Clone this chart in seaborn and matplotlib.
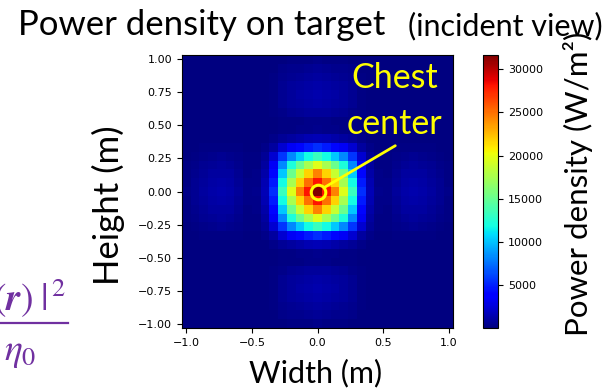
import matplotlib.pyplot as plt
from matplotlib.lines import Line2D
import numpy as np
import pandas as pd
import seaborn as sns

# peak power density on the target (W/m^2)
peak_density = 31660

# relative power per cell (31 cells from -1 m to 1 m)
# width: left -> right, height: top -> bottom
width_profile = [0.008, 0.018, 0.028, 0.036, 0.040, 0.036, 0.025, 0.010, 0.012, 0.05,
                 0.17, 0.42, 0.62, 0.77, 0.89, 1.00, 0.89, 0.77, 0.62, 0.42,
                 0.17, 0.05, 0.012, 0.010, 0.025, 0.036, 0.040, 0.036, 0.028, 0.018, 0.008]
height_profile = [0.008, 0.020, 0.030, 0.038, 0.042, 0.038, 0.027, 0.010, 0.012, 0.05,
                  0.17, 0.42, 0.62, 0.77, 0.89, 1.00, 0.89, 0.77, 0.62, 0.42,
                  0.17, 0.05, 0.012, 0.010, 0.027, 0.038, 0.042, 0.038, 0.030, 0.020, 0.008]

x_ticks = [-1.0, -0.5, 0.0, 0.5, 1.0]
y_ticks = [1.00, 0.75, 0.50, 0.25, 0.00, -0.25, -0.50, -0.75, -1.00]

W, H = 610, 391
YELLOW = '#FFFF00'
PURPLE = '#7030A0'


def fx(x):
    return x / W


def fy(y):
    return 1 - y / H


def main() -> None:
    plt.rcParams['font.family'] = 'DejaVu Sans'
    fig = plt.figure(figsize=(W / 100, H / 100), dpi=100)

    ax = fig.add_axes([fx(182), fy(328), (453 - 182) / W, (328 - 55) / H])
    cax = fig.add_axes([fx(483), fy(328), 15 / W, (328 - 55) / H])

    density = pd.DataFrame(np.outer(height_profile, width_profile) * peak_density)
    sns.heatmap(
        density,
        ax=ax,
        cbar_ax=cax,
        cmap='jet',
        xticklabels=False,
        yticklabels=False,
    )

    n = len(width_profile)
    step = 2 / (n - 1)
    ax.set_xticks([(v + 1) / step + 0.5 for v in x_ticks])
    ax.set_xticklabels([f'{v:.1f}'.replace('-', '\u2212') for v in x_ticks])
    ax.set_yticks([(1 - v) / step + 0.5 for v in y_ticks])
    ax.set_yticklabels([f'{v:.2f}'.replace('-', '\u2212') for v in y_ticks], rotation=0)
    ax.tick_params(labelsize=8, length=3.5, width=0.8)
    for spine in ax.spines.values():
        spine.set_visible(True)
        spine.set_linewidth(0.8)
        spine.set_color('black')

    cbar = ax.collections[0].colorbar
    cbar.outline.set_linewidth(0.8)
    cbar.outline.set_edgecolor('black')
    cbar.ax.tick_params(labelsize=8, length=3.5, width=0.8)

    # chest center marker
    c = n / 2
    ax.plot([c], [c], 'o', ms=10.5, mfc='none', mec=YELLOW, mew=2.2)
    ax.annotate('', xy=(c, c), xytext=(24.4, 10.3),
                arrowprops=dict(arrowstyle='-', color=YELLOW, lw=2, shrinkA=0, shrinkB=6))
    fig.text(fx(395), fy(88), 'Chest', color=YELLOW, family='Lato', size=24.5,
             ha='center', va='baseline')
    fig.text(fx(394), fy(134), 'center', color=YELLOW, family='Lato', size=24.5,
             ha='center', va='baseline')

    # slide-style labels
    fig.text(fx(18), fy(35), 'Power density on target', family='Lato', size=25,
             ha='left', va='baseline')
    fig.text(fx(603), fy(35), '(incident view)', family='Lato', size=22,
             ha='right', va='baseline')
    fig.text(fx(316), fy(382), 'Width (m)', family='Lato', size=22,
             ha='center', va='baseline')
    fig.text(fx(108), fy(205), 'Height (m)', family='Lato', size=25,
             rotation=90, ha='center', va='center')
    fig.text(fx(578), fy(184), 'Power density (W/m\u00b2)', family='Lato', size=22.5,
             rotation=90, ha='center', va='center')

    # cut-off formula on the left edge
    fig.text(fx(66), fy(311), r'$|E(\mathbfit{r})\;|^{\,2}$', color=PURPLE, size=27,
             math_fontfamily='stix', ha='right', va='baseline')
    fig.add_artist(Line2D([0, fx(68)], [fy(323), fy(323)], color=PURPLE, lw=1.6,
                          transform=fig.transFigure))
    fig.text(fx(36), fy(360), r'$\eta_0$', color=PURPLE, size=27,
             math_fontfamily='stix', ha='right', va='baseline')

    fig.savefig('out.png', dpi=100)


if __name__ == "__main__":
    main()
